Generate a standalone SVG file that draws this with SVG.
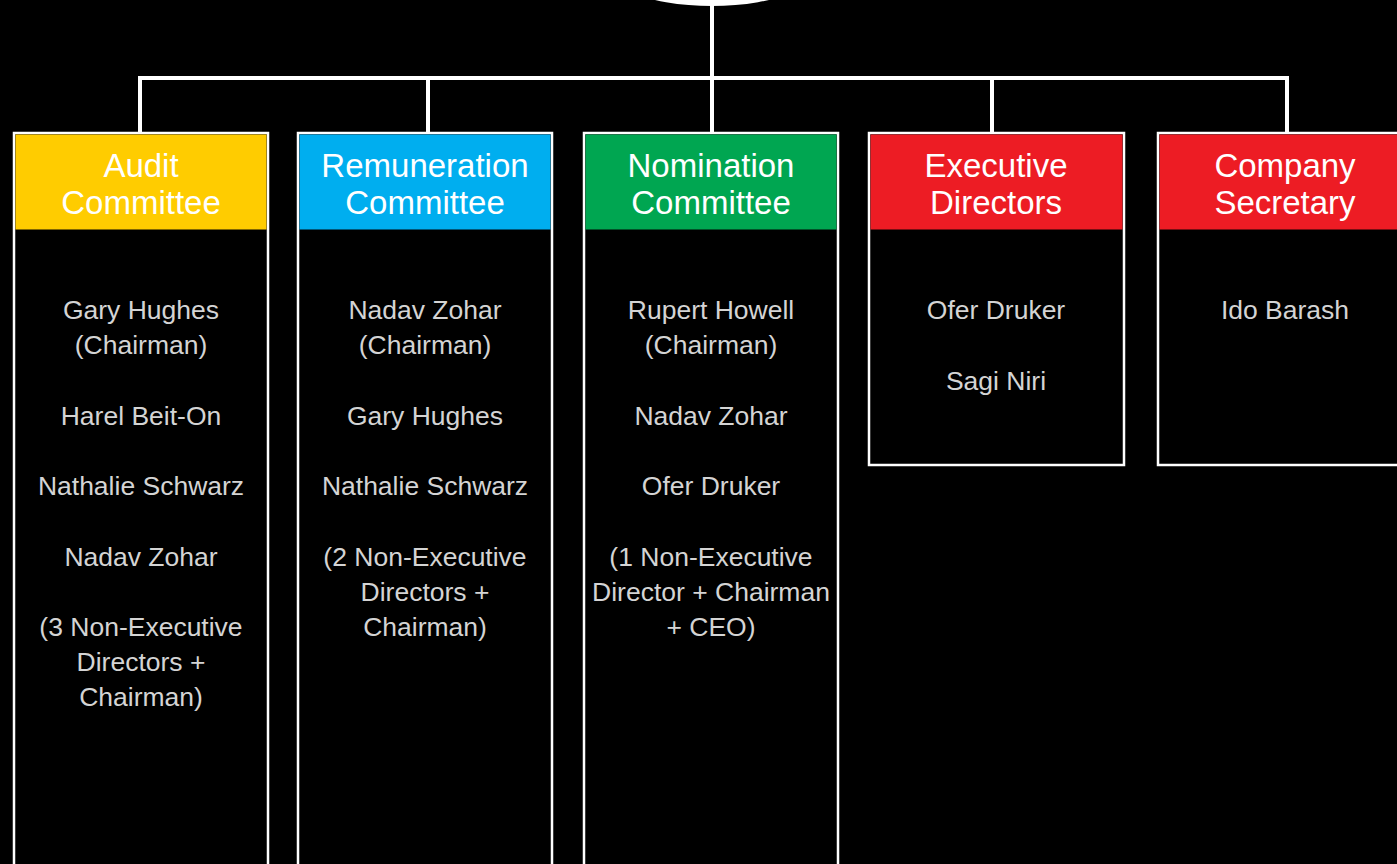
<svg xmlns="http://www.w3.org/2000/svg" width="1397" height="864" viewBox="0 0 1397 864">
<style>
.box{fill:#000;stroke:#fff;stroke-width:2.5}
.hd{font-family:"Liberation Sans",Arial,sans-serif;font-size:33px;fill:#fff;text-anchor:middle}
.bd{font-family:"Liberation Sans",Arial,sans-serif;font-size:26.5px;fill:#d4d4d4;text-anchor:middle}
.ln{stroke:#fff;stroke-width:4;fill:none}
</style>
<rect width="1397" height="864" fill="#000"/>
<g id="top">
<ellipse cx="712" cy="-44" rx="120" ry="50" fill="#fff"/>
</g>
<g id="connectors">
<path class="ln" d="M712 0V78M140 133V78H1287V133M428 78V133M712 78V133M992 78V133"/>
</g>
<g id="audit">
<rect class="box" x="14" y="133" width="254" height="760"/>
<rect x="15.5" y="134.5" width="251" height="95" fill="#FFCC00"/>
<text class="hd" x="141" y="177">Audit</text>
<text class="hd" x="141" y="214">Committee</text>
<text class="bd" x="141" y="319">Gary Hughes</text>
<text class="bd" x="141" y="354">(Chairman)</text>
<text class="bd" x="141" y="425">Harel Beit-On</text>
<text class="bd" x="141" y="495">Nathalie Schwarz</text>
<text class="bd" x="141" y="566">Nadav Zohar</text>
<text class="bd" x="141" y="636">(3 Non-Executive</text>
<text class="bd" x="141" y="671">Directors +</text>
<text class="bd" x="141" y="706">Chairman)</text>
</g>
<g id="remuneration">
<rect class="box" x="298" y="133" width="254" height="760"/>
<rect x="299.5" y="134.5" width="251" height="95" fill="#00AEEF"/>
<text class="hd" x="425" y="177">Remuneration</text>
<text class="hd" x="425" y="214">Committee</text>
<text class="bd" x="425" y="319">Nadav Zohar</text>
<text class="bd" x="425" y="354">(Chairman)</text>
<text class="bd" x="425" y="425">Gary Hughes</text>
<text class="bd" x="425" y="495">Nathalie Schwarz</text>
<text class="bd" x="425" y="566">(2 Non-Executive</text>
<text class="bd" x="425" y="601">Directors +</text>
<text class="bd" x="425" y="636">Chairman)</text>
</g>
<g id="nomination">
<rect class="box" x="584" y="133" width="254" height="760"/>
<rect x="585.5" y="134.5" width="251" height="95" fill="#00A651"/>
<text class="hd" x="711" y="177">Nomination</text>
<text class="hd" x="711" y="214">Committee</text>
<text class="bd" x="711" y="319">Rupert Howell</text>
<text class="bd" x="711" y="354">(Chairman)</text>
<text class="bd" x="711" y="425">Nadav Zohar</text>
<text class="bd" x="711" y="495">Ofer Druker</text>
<text class="bd" x="711" y="566">(1 Non-Executive</text>
<text class="bd" x="711" y="601">Director + Chairman</text>
<text class="bd" x="711" y="636">+ CEO)</text>
</g>
<g id="executive">
<rect class="box" x="869" y="133" width="255" height="332"/>
<rect x="870.5" y="134.5" width="252" height="95" fill="#ED1C24"/>
<text class="hd" x="996" y="177">Executive</text>
<text class="hd" x="996" y="214">Directors</text>
<text class="bd" x="996" y="319">Ofer Druker</text>
<text class="bd" x="996" y="390">Sagi Niri</text>
</g>
<g id="secretary">
<rect class="box" x="1158" y="133" width="260" height="332"/>
<rect x="1159.5" y="134.5" width="257" height="95" fill="#ED1C24"/>
<text class="hd" x="1285" y="177">Company</text>
<text class="hd" x="1285" y="214">Secretary</text>
<text class="bd" x="1285" y="319">Ido Barash</text>
</g>
</svg>
